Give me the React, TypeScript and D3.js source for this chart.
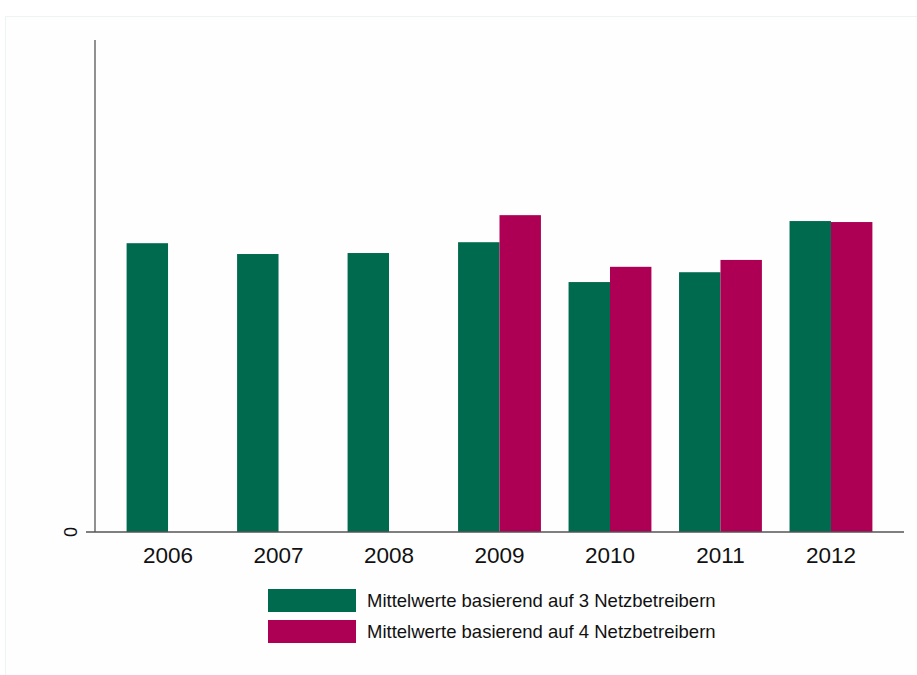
import React from "react";
import * as d3 from "d3";

const years = ["2006", "2007", "2008", "2009", "2010", "2011", "2012"];
const series3 = [58.7, 56.5, 56.7, 58.9, 50.8, 52.8, 63.2];
const series4: (number | null)[] = [null, null, null, 64.4, 53.9, 55.3, 63.0];
const seriesNames = [
  "Mittelwerte basierend auf 3 Netzbetreibern",
  "Mittelwerte basierend auf 4 Netzbetreibern",
];
const colors = ["#006a4e", "#ad0055"];
const yTicks = [0];

const W = 917;
const H = 675;

export default function App() {
  const x = d3.scaleBand<string>().domain(years).range([95, 904]).paddingInner(0.25).paddingOuter(0.286);
  const y = d3.scaleLinear().domain([0, 100]).range([532, 40]);
  const bw = x.bandwidth() / 2;
  const font = "'Liberation Sans', Arial, sans-serif";

  return (
    <svg width={W} height={H} style={{ position: "absolute", left: 0, top: 0, background: "#fff" }} fontFamily={font}>
      <rect x={5.5} y={16.5} width={W} height={H} fill="#fefefe" stroke="#eef3f3" strokeWidth={1} />
      {years.map((yr, i) => (
        <g key={yr}>
          <rect x={x(yr)!} y={y(series3[i])} width={bw} height={y(0) - y(series3[i])} fill={colors[0]} />
          {series4[i] != null && (
            <rect x={x(yr)! + bw} y={y(series4[i] as number)} width={bw} height={y(0) - y(series4[i] as number)} fill={colors[1]} />
          )}
          <text x={x(yr)! + x.bandwidth() / 2} y={563} textAnchor="middle" fontSize={22.5} fill="#111">{yr}</text>
        </g>
      ))}
      <line x1={95} x2={95} y1={40} y2={532} stroke="#555" strokeWidth={1.3} />
      <line x1={86} x2={904} y1={532} y2={532} stroke="#555" strokeWidth={1.3} />
      {yTicks.map((t) => (
        <text key={t} transform={`translate(77,${y(t)}) rotate(-90)`} textAnchor="middle" fontSize={18} fill="#111">{t}</text>
      ))}
      {seriesNames.map((name, i) => (
        <g key={name}>
          <rect x={268} y={589 + i * 31} width={88} height={23} fill={colors[i]} />
          <text x={367} y={607 + i * 31} fontSize={18.5} fill="#111">{name}</text>
        </g>
      ))}
    </svg>
  );
}
